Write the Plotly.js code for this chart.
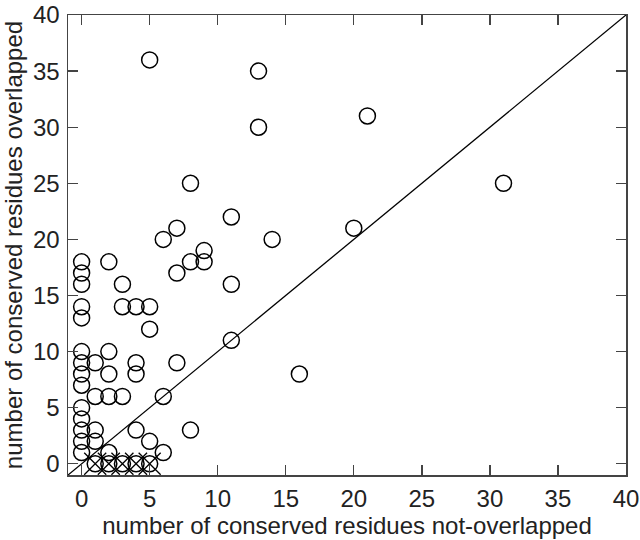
<!DOCTYPE html>
<html><head><meta charset="utf-8">
<script src="https://cdn.plot.ly/plotly-3.0.1.min.js"></script>
<style>html,body{margin:0;padding:0;background:#fff}#chart{width:640px;height:540px}</style>
</head><body><div id="chart"></div>
<script>
// conserved residues not-overlapped (x) vs overlapped (y)
const notOverlapped = [0,0,0,0,0,0,0,0,0,0,0,0,0,0, 1,1,1,1, 2,2,2,2,2, 3,3,3, 4,4,4,4, 5,5,5,5, 6,6,6, 7,7,7, 8,8,8, 9,9, 11,11,11, 13,13, 14, 16, 20, 21, 31];
const overlapped    = [18,17,16,14,13,10,9,8,7,5,4,3,2,1, 9,6,3,2, 18,10,8,6,1, 16,14,6, 14,9,8,3, 36,14,12,2, 20,6,1, 21,17,9, 25,18,3, 19,18, 22,16,11, 35,30, 20, 8, 21, 31, 25];
// cases with zero overlapped residues (drawn crossed)
const zeroX = [1,2,3,4,5];
const zeroY = [0,0,0,0,0];
// identity line
const diagX = [-1, 40];
const diagY = [-1, 40];
const tickVals = [0,5,10,15,20,25,30,35,40];

const traces = [
  {x: diagX, y: diagY, mode:'lines', line:{color:'#000', width:1.3}, hoverinfo:'skip'},
  {x: notOverlapped, y: overlapped, mode:'markers', type:'scatter',
   marker:{symbol:'circle-open', size:16, color:'#000', line:{width:1.5, color:'#000'}}},
  {x: zeroX, y: zeroY, mode:'markers', type:'scatter',
   marker:{symbol:'circle-open', size:16, color:'#000', line:{width:1.5, color:'#000'}}},
  {x: zeroX, y: zeroY, mode:'markers', type:'scatter',
   marker:{symbol:'x-thin-open', size:22, color:'#000', line:{width:1.3, color:'#000'}}}
];

const fontFam = 'Liberation Sans, Arial, sans-serif';
const axisBase = {
  range:[-1,40], tickvals:tickVals, ticks:'inside', ticklen:10, tickwidth:1.3, tickcolor:'#444',
  showline:true, linecolor:'#444', linewidth:1.5, mirror:'ticks', showgrid:false, zeroline:false,
  automargin:false, ticklabeloverflow:'allow',
  tickfont:{family:fontFam, size:24, color:'#222'}
};

const layout = {
  width:640, height:540, showlegend:false,
  paper_bgcolor:'#fff', plot_bgcolor:'#fff',
  margin:{l:68, r:14, t:15, b:65},
  xaxis: Object.assign({}, axisBase, {
    ticklabelstandoff:2,
    title:{text:'number of conserved residues not-overlapped', standoff:4,
      font:{family:fontFam, size:24, color:'#222'}}
  }),
  yaxis: Object.assign({}, axisBase, {
    ticklabelstandoff:2,
    title:{text:'number of conserved residues overlapped', standoff:4,
      font:{family:fontFam, size:24, color:'#222'}}
  })
};

Plotly.newPlot('chart', traces, layout, {displayModeBar:false, staticPlot:true});
</script></body></html>
